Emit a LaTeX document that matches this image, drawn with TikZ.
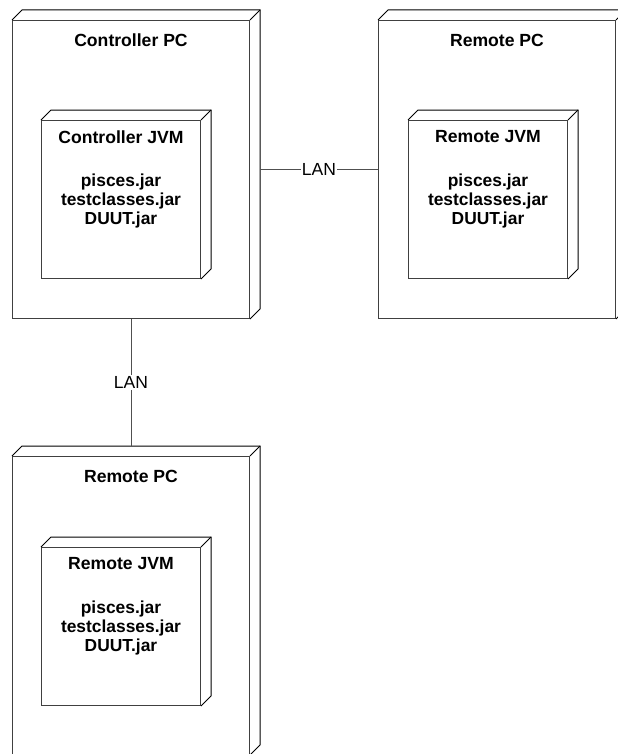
\documentclass[tikz,border=0pt]{standalone}
\usepackage{fontspec}
\setmainfont{Liberation Sans}
\usetikzlibrary{calc}
\definecolor{frontedge}{HTML}{404040}
\definecolor{backedge}{HTML}{000000}
\definecolor{linkline}{HTML}{505050}

% draws the receding top and right faces of a 3-D node box
\newcommand\boxdepth[1]{%
  \draw[depthline] (#1.north west) -- ++(10,-10) -| ($(#1.south east)+(10,-10)$) -- (#1.south east);
  \draw[depthline] (#1.north east) -- ++(10,-10);}

\begin{document}
\begin{tikzpicture}[x=1bp,y=-1bp,
  depthline/.style={draw=backedge, line width=1bp},
  pcbox/.style={draw=frontedge, line width=1bp, rectangle, inner sep=0pt,
    minimum width=237bp, minimum height=298bp, anchor=north west},
  jvmbox/.style={draw=frontedge, line width=1bp, rectangle, inner sep=0pt,
    minimum width=159bp, minimum height=158bp, anchor=north west},
  title/.style={font=\bfseries\fontsize{17.6bp}{19bp}\selectfont, inner sep=0pt},
  jars/.style={font=\bfseries\fontsize{17.4bp}{18.6bp}\selectfont, inner sep=0pt,
    align=center, anchor=north},
  link/.style={draw=linkline, line width=1bp},
  linklabel/.style={font=\fontsize{17.5bp}{19bp}\selectfont, fill=white, inner sep=1bp}
]
\useasboundingbox (0,0) rectangle (618,754);
\clip (0,0) rectangle (618,754);

% nodes
\node[pcbox] (ctrl) at (12,20) {};
\node[jvmbox] (cjvm) at (41,120) {};
\node[pcbox] (rpc) at (378,20) {};
\node[jvmbox] (rjvm) at (408,120) {};
\node[pcbox] (bpc) at (12,456) {};
\node[jvmbox] (bjvm) at (41,547) {};

\boxdepth{ctrl}
\boxdepth{cjvm}
\boxdepth{rpc}
\boxdepth{rjvm}
\boxdepth{bpc}
\boxdepth{bjvm}

% texts
\node[title] (ctrltitle) at ([yshift=-20bp]ctrl.north) {Controller PC};
\node[title] (cjvmtitle) at ([yshift=-17bp]cjvm.north) {Controller JVM};
\node[jars] (cjvmjars) at ([yshift=-54bp]cjvm.north) {pisces.jar\\testclasses.jar\\DUUT.jar};

\node[title] (rpctitle) at ([yshift=-20bp]rpc.north) {Remote PC};
\node[title] (rjvmtitle) at ([yshift=-17bp]rjvm.north) {Remote JVM};
\node[jars] (rjvmjars) at ([yshift=-54bp]rjvm.north) {pisces.jar\\testclasses.jar\\DUUT.jar};

\node[title] (bpctitle) at ([yshift=-20bp]bpc.north) {Remote PC};
\node[title] (bjvmtitle) at ([yshift=-17bp]bjvm.north) {Remote JVM};
\node[jars] (bjvmjars) at ([yshift=-54bp]bjvm.north) {pisces.jar\\testclasses.jar\\DUUT.jar};

% network links
\draw[link] ([xshift=10bp]ctrl.east) -- node[linklabel] (lan1) {LAN} (rpc.west);
\draw[link] (ctrl.south) -- node[linklabel] (lan2) {LAN} ([yshift=10bp]bpc.north);
\end{tikzpicture}
\end{document}
